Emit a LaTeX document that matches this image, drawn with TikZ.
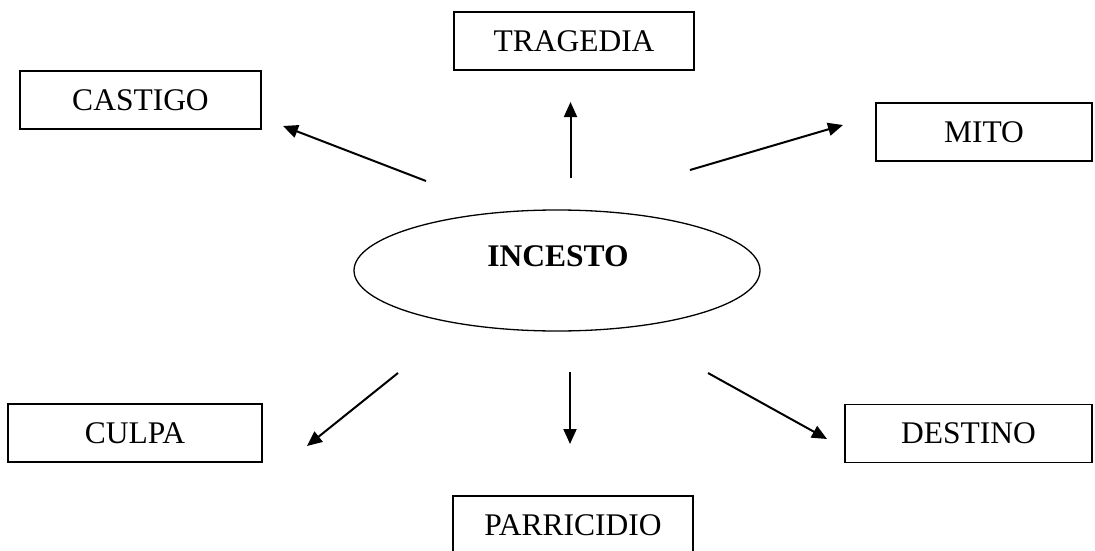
\documentclass[tikz,border=0pt]{standalone}
\usepackage{fontspec}
\setmainfont{Liberation Serif}
\usetikzlibrary{arrows.meta,shapes.geometric}
\begin{document}
\begin{tikzpicture}[x=1pt,y=-1pt,
  box/.style={draw,line width=1.6pt,inner sep=0pt,minimum height=58pt,font=\fontsize{31.5}{36}\selectfont},
  arr/.style={line width=2pt,-{Triangle[length=15pt,width=13pt]}}]
\useasboundingbox (0,0) rectangle (1095,551);
\node[box,minimum width=240pt] (tra) at (574,41) {TRAGEDIA};
\node[box,minimum width=241pt] (cas) at (140.5,100) {CASTIGO};
\node[box,minimum width=216pt] (mit) at (984,132) {MITO};
\node[box,minimum width=254pt] (cul) at (135,433) {CULPA};
\node[box,minimum width=240pt] (par) at (573,525) {PARRICIDIO};
\node[box,minimum width=247pt] (des) at (968.5,433.5) {DESTINO};
\node[ellipse,draw,line width=1.3pt,minimum width=406pt,minimum height=121pt,inner sep=0pt] (inc) at (557,270.5) {};
\node[font=\fontsize{31.5}{36}\selectfont\bfseries] (inct) at (558,256) {INCESTO};
\coordinate (c1s) at (426,181); \coordinate (c1e) at (283,126);
\coordinate (c2s) at (570.5,178); \coordinate (c2e) at (570.5,102);
\coordinate (c3s) at (690,170); \coordinate (c3e) at (843,125);
\coordinate (c4s) at (398,373); \coordinate (c4e) at (307,446);
\coordinate (c5s) at (570,372); \coordinate (c5e) at (570,444);
\coordinate (c6s) at (708,373); \coordinate (c6e) at (827,439);
\draw[arr] (c1s) -- (c1e);
\draw[arr] (c2s) -- (c2e);
\draw[arr] (c3s) -- (c3e);
\draw[arr] (c4s) -- (c4e);
\draw[arr] (c5s) -- (c5e);
\draw[arr] (c6s) -- (c6e);
\end{tikzpicture}
\end{document}
